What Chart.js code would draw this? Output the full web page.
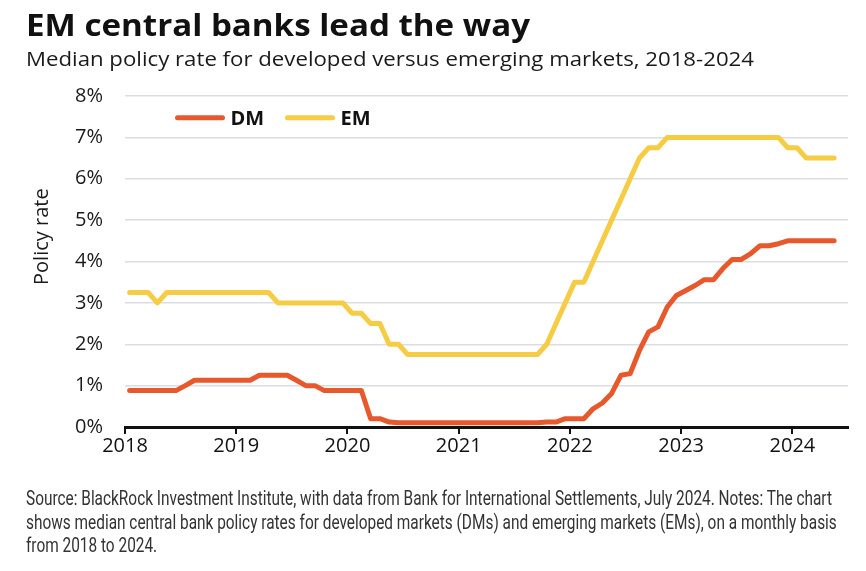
<!DOCTYPE html>
<html>
<head>
<meta charset="utf-8">
<script src="https://cdn.jsdelivr.net/npm/chart.js@4.4.1/dist/chart.umd.min.js"></script>
<style>
html,body{margin:0;padding:0;background:#fff;width:866px;height:571px;overflow:hidden}
#wrap{position:relative;width:866px;height:571px}
#c{position:absolute;left:0;top:0}
.t{position:absolute;left:26px;top:0;white-space:nowrap;transform-origin:0 0;margin:0}
#title{font-family:'Open Sans',sans-serif;font-weight:700;font-size:30px;color:#111}
#subtitle{font-family:'Open Sans',sans-serif;font-weight:400;font-size:20px;color:#1a1a1a}
.fn{font-family:Roboto,sans-serif;font-weight:400;font-size:20px;color:#333}
</style>
</head>
<body>
<div id="wrap">
<canvas id="c" width="866" height="571"></canvas>
<div id="title" class="t">EM central banks lead the way</div>
<div id="subtitle" class="t">Median policy rate for developed versus emerging markets, 2018-2024</div>
<div id="fn1" class="t fn">Source: BlackRock Investment Institute, with data from Bank for International Settlements, July 2024. Notes: The chart</div>
<div id="fn2" class="t fn">shows median central bank policy rates for developed markets (DMs) and emerging markets (EMs), on a monthly basis</div>
<div id="fn3" class="t fn">from 2018 to 2024.</div>
</div>
<script>
// ---- data (monthly, Jan 2018 - May 2024) ----
const startYear = 2018;
const seriesNames = ['DM', 'EM'];
const dmValues = [
  0.88,0.88,0.88,0.88,0.88,0.88,1.0,1.13,1.13,1.13,1.13,1.13,
  1.13,1.13,1.25,1.25,1.25,1.25,1.13,1.0,1.0,0.88,0.88,0.88,
  0.88,0.88,0.2,0.2,0.12,0.1,0.1,0.1,0.1,0.1,0.1,0.1,
  0.1,0.1,0.1,0.1,0.1,0.1,0.1,0.1,0.1,0.12,0.12,0.2,
  0.2,0.2,0.44,0.58,0.81,1.25,1.29,1.85,2.3,2.42,2.9,3.18,
  3.3,3.42,3.56,3.56,3.83,4.05,4.05,4.19,4.38,4.38,4.43,4.5,
  4.5,4.5,4.5,4.5,4.5
];
const emValues = [
  3.25,3.25,3.25,3.0,3.25,3.25,3.25,3.25,3.25,3.25,3.25,3.25,
  3.25,3.25,3.25,3.25,3.0,3.0,3.0,3.0,3.0,3.0,3.0,3.0,
  2.75,2.75,2.5,2.5,2.0,2.0,1.75,1.75,1.75,1.75,1.75,1.75,
  1.75,1.75,1.75,1.75,1.75,1.75,1.75,1.75,1.75,2.0,2.5,3.0,
  3.5,3.5,4.0,4.5,5.0,5.5,6.0,6.5,6.75,6.75,7.0,7.0,
  7.0,7.0,7.0,7.0,7.0,7.0,7.0,7.0,7.0,7.0,7.0,6.75,
  6.75,6.5,6.5,6.5,6.5
];
const yearTicks = [2018,2019,2020,2021,2022,2023,2024];
const yTickValues = [0,1,2,3,4,5,6,7,8];
const yAxisTitle = 'Policy rate';

const DM_COLOR = '#E8582D';
const EM_COLOR = '#F6CC44';
const AXIS_FONT = "'Open Sans', sans-serif";

function toPoints(vals){ return vals.map((v,i)=>({x: startYear + (i+0.5)/12, y: v})); }

const legendPlugin = {
  id:'customLegend',
  afterDraw(chart){
    const {ctx, chartArea} = chart;
    ctx.save();
    ctx.fillStyle = '#1a1a1a';
    ctx.font = "20px " + AXIS_FONT;
    ctx.textAlign = 'center';
    ctx.textBaseline = 'middle';
    ctx.translate(42, chartArea.top + (chartArea.bottom - chartArea.top)*0.425);
    ctx.rotate(-Math.PI/2);
    ctx.fillText(yAxisTitle, 0, 0);
    ctx.restore();
    ctx.save();
    const y = chartArea.top + 21.7;
    let x = chartArea.left + 52.5;
    chart.data.datasets.forEach(ds=>{
      ctx.strokeStyle = ds.borderColor;
      ctx.lineWidth = 5;
      ctx.lineCap = 'round';
      ctx.beginPath(); ctx.moveTo(x, y); ctx.lineTo(x+45, y); ctx.stroke();
      ctx.fillStyle = '#111';
      ctx.font = "bold 20px " + AXIS_FONT;
      ctx.textAlign = 'left';
      ctx.textBaseline = 'alphabetic';
      ctx.fillText(ds.label, x+53, y+7);
      x += 110;
    });
    ctx.restore();
  }
};

new Chart(document.getElementById('c'), {
  type:'line',
  data:{datasets:[
    {label:seriesNames[0], data:toPoints(dmValues), borderColor:DM_COLOR, backgroundColor:DM_COLOR,
     borderWidth:5, pointRadius:0, tension:0, borderCapStyle:'round', borderJoinStyle:'round', fill:false},
    {label:seriesNames[1], data:toPoints(emValues), borderColor:EM_COLOR, backgroundColor:EM_COLOR,
     borderWidth:5, pointRadius:0, tension:0, borderCapStyle:'round', borderJoinStyle:'round', fill:false}
  ]},
  options:{
    responsive:false, animation:false,
    layout:{padding:{top:96, right:18, left:0, bottom:0}},
    plugins:{legend:{display:false}, tooltip:{enabled:false}},
    scales:{
      x:{type:'linear', min:2018, max:2024.5,
         afterBuildTicks:s=>{ s.ticks = yearTicks.map(v=>({value:v})); },
         ticks:{callback:v=>String(v), font:{family:AXIS_FONT,size:20}, color:'#111', padding:0, maxRotation:0, autoSkip:false},
         grid:{display:true, drawOnChartArea:false, drawTicks:true, tickLength:7, color:'#111', lineWidth:2},
         border:{display:true, color:'#111', width:3},
         afterFit:s=>{ s.height = 144; }},
      y:{min:0, max:8,
         afterBuildTicks:s=>{ s.ticks = yTickValues.map(v=>({value:v})); },
         ticks:{callback:v=>v+'%', font:{family:AXIS_FONT,size:20}, color:'#1a1a1a', padding:22},
         grid:{color:'#dcdde3', lineWidth:1.5, drawTicks:false},
         border:{display:false},
         afterFit:s=>{ s.width = 125; }}
    }
  },
  plugins:[legendPlugin]
});

function place(id, baseline, targetW, scaleOverride){
  const el = document.getElementById(id);
  const m = document.createElement('span');
  m.style.display='inline-block'; m.style.width='0'; m.style.height='0'; m.style.verticalAlign='baseline';
  el.appendChild(m);
  const off = m.getBoundingClientRect().top - el.getBoundingClientRect().top;
  el.removeChild(m);
  el.style.top = (baseline - off) + 'px';
  let k = scaleOverride;
  if (k === undefined && targetW) k = targetW / el.getBoundingClientRect().width;
  if (k !== undefined) el.style.transform = 'scaleX(' + k + ')';
  return k;
}
function layoutText(){
  place('title', 36, 504);
  place('subtitle', 66, 728);
  const k = place('fn1', 505, 806);
  place('fn2', 528.5, undefined, k);
  place('fn3', 552, undefined, k);
}
if (document.fonts && document.fonts.ready) document.fonts.ready.then(layoutText); else layoutText();
</script>
</body>
</html>
